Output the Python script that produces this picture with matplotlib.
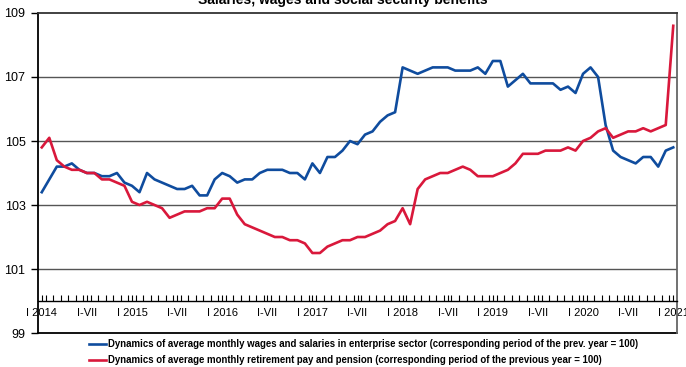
import numpy as np
import matplotlib
matplotlib.use("Agg")
import matplotlib.pyplot as plt

plt.rcParams['font.family'] = ['Liberation Sans', 'DejaVu Sans']

# monthly values, I 2014 .. I 2021 (85 months)
wages = [
    103.4, 103.8, 104.2, 104.2, 104.3, 104.1, 104.0, 104.0, 103.9, 103.9, 104.0, 103.7,
    103.6, 103.4, 104.0, 103.8, 103.7, 103.6, 103.5, 103.5, 103.6, 103.3, 103.3, 103.8,
    104.0, 103.9, 103.7, 103.8, 103.8, 104.0, 104.1, 104.1, 104.1, 104.0, 104.0, 103.8,
    104.3, 104.0, 104.5, 104.5, 104.7, 105.0, 104.9, 105.2, 105.3, 105.6, 105.8, 105.9,
    107.3, 107.2, 107.1, 107.2, 107.3, 107.3, 107.3, 107.2, 107.2, 107.2, 107.3, 107.1,
    107.5, 107.5, 106.7, 106.9, 107.1, 106.8, 106.8, 106.8, 106.8, 106.6, 106.7, 106.5,
    107.1, 107.3, 107.0, 105.5, 104.7, 104.5, 104.4, 104.3, 104.5, 104.5, 104.2, 104.7,
    104.8,
]
pensions = [
    104.8, 105.1, 104.4, 104.2, 104.1, 104.1, 104.0, 104.0, 103.8, 103.8, 103.7, 103.6,
    103.1, 103.0, 103.1, 103.0, 102.9, 102.6, 102.7, 102.8, 102.8, 102.8, 102.9, 102.9,
    103.2, 103.2, 102.7, 102.4, 102.3, 102.2, 102.1, 102.0, 102.0, 101.9, 101.9, 101.8,
    101.5, 101.5, 101.7, 101.8, 101.9, 101.9, 102.0, 102.0, 102.1, 102.2, 102.4, 102.5,
    102.9, 102.4, 103.5, 103.8, 103.9, 104.0, 104.0, 104.1, 104.2, 104.1, 103.9, 103.9,
    103.9, 104.0, 104.1, 104.3, 104.6, 104.6, 104.6, 104.7, 104.7, 104.7, 104.8, 104.7,
    105.0, 105.1, 105.3, 105.4, 105.1, 105.2, 105.3, 105.3, 105.4, 105.3, 105.4, 105.5,
    108.6,
]
years = [2014, 2015, 2016, 2017, 2018, 2019, 2020, 2021]

wages_label = ("Dynamics of average monthly wages and salaries in enterprise sector "
               "(corresponding period of the prev. year = 100)")
pensions_label = ("Dynamics of average monthly retirement pay and pension "
                  "(corresponding period of the previous year = 100)")

months = np.arange(len(wages))

# x tick labels: I <year> every January, I-VII every July
tick_pos, tick_lab = [], []
for k, yr in enumerate(years):
    tick_pos.append(12 * k); tick_lab.append(f"I {yr}")
    if yr != years[-1]:
        tick_pos.append(12 * k + 6); tick_lab.append("I-VII")

fig = plt.figure(figsize=(6.86, 3.67), dpi=100)
ax = fig.add_axes([0.0554, 0.0926, 0.9315, 0.872])

for v in [101, 103, 105, 107]:
    ax.axhline(v, color='#555555', lw=1.0, zorder=1)

ax.plot(months, wages, color='#0f4c9e', lw=1.9, label=wages_label, zorder=3)
ax.plot(months, pensions, color='#d9183b', lw=1.9, label=pensions_label, zorder=3)

ax.set_xlim(-0.5, len(wages) - 0.5)
ax.set_ylim(99, 109)
ax.set_yticks([99, 101, 103, 105, 107, 109])
ax.tick_params(axis='y', direction='out', length=5, width=1, labelsize=9, pad=4)

# category axis sits on the 100 line
ax.spines['bottom'].set_position(('data', 100))
ax.spines['bottom'].set_linewidth(1.0)
ax.set_xticks(tick_pos)
ax.set_xticklabels(tick_lab)
ax.set_xticks(months[1:] - 0.5, minor=True)
ax.tick_params(axis='x', which='both', direction='in', length=4, width=0.8,
               labelsize=8, pad=5)
ax.axhline(99, color='black', lw=1.3, clip_on=False, zorder=2)
ax.spines['left'].set_linewidth(1.3)
ax.spines['top'].set_color('#333333')
ax.spines['top'].set_linewidth(1.3)
ax.spines['right'].set_color('#666666')
ax.spines['right'].set_linewidth(1.3)

fig.text(0.5, 0.989, "Salaries, wages and social security benefits",
         ha='center', va='baseline', fontsize=10, fontweight='bold')

fig.legend(loc='upper left', bbox_to_anchor=(89 / 686, 1 - 339 / 367),
           frameon=False, handlelength=1.8, handletextpad=0.15, labelspacing=0.65,
           borderaxespad=0, borderpad=0,
           prop={'size': 6.9, 'weight': 'bold'})

fig.savefig("out.png", dpi=100)
